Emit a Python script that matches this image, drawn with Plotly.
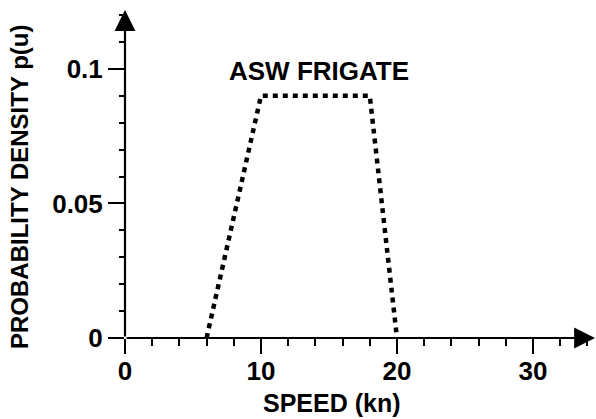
import plotly.graph_objects as go

# Data
speed = [6, 10, 18, 20]
density = [0, 0.09, 0.09, 0]
series_name = "ASW FRIGATE"

x_tickvals = [0, 10, 20, 30]
x_ticktext = ["<b>0</b>", "<b>10</b>", "<b>20</b>", "<b>30</b>"]
y_tickvals = [0, 0.05, 0.1]
y_ticktext = ["<b>0</b>", "<b>0.05</b>", "<b>0.1</b>"]

X_MAX = 34.56
Y_MAX = 0.1219
FONT = "Liberation Sans, Arial, sans-serif"

fig = go.Figure()
fig.add_trace(go.Scatter(
    x=speed, y=density, mode="lines",
    line=dict(color="black", width=4.5, dash="5px,5px"),
    showlegend=False, hoverinfo="skip", cliponaxis=False,
))

fig.update_layout(
    width=596, height=419,
    margin=dict(l=125, r=1, t=10, b=81),
    paper_bgcolor="white", plot_bgcolor="white",
    font=dict(family=FONT, color="black"),
    xaxis=dict(
        range=[0, X_MAX], showgrid=False, zeroline=False, showline=False,
        tickvals=x_tickvals, ticktext=x_ticktext,
        ticks="outside", ticklen=15, tickwidth=2, tickcolor="black",
        ticklabelstandoff=-5,
        tickfont=dict(size=26, family=FONT, color="black"),
        minor=dict(ticks="outside", ticklen=7, tickwidth=2, tickcolor="black", dtick=2, tick0=0),
    ),
    yaxis=dict(
        range=[0, Y_MAX], showgrid=False, zeroline=False, showline=False,
        tickvals=y_tickvals, ticktext=y_ticktext,
        ticks="outside", ticklen=16, tickwidth=2, tickcolor="black",
        tickfont=dict(size=26, family=FONT, color="black"),
        minor=dict(ticks="outside", ticklen=5, tickwidth=2, tickcolor="black", dtick=0.01, tick0=0),
    ),
)

# axis lines with arrowheads
fig.add_annotation(x=X_MAX, y=0, ax=0, ay=0, xref="x", yref="y", axref="x", ayref="y",
                   showarrow=True, arrowhead=2, arrowsize=1.9, arrowwidth=2.2, arrowcolor="black", text="")
fig.add_annotation(x=0, y=Y_MAX, ax=0, ay=0, xref="x", yref="y", axref="x", ayref="y",
                   showarrow=True, arrowhead=2, arrowsize=1.9, arrowwidth=2.2, arrowcolor="black", text="")

# series label
fig.add_annotation(x=14.3, y=0.0993, xref="x", yref="y", text="<b>" + series_name + "</b>",
                   showarrow=False, font=dict(size=26, family=FONT, color="black"))

# axis titles
fig.add_annotation(x=(332 - 125) / 470, y=(338 - 403) / 328, xref="paper", yref="paper",
                   text="<b>SPEED (kn)</b>", showarrow=False, xanchor="center", yanchor="middle",
                   font=dict(size=25, family=FONT, color="black"))
fig.add_annotation(x=(20 - 125) / 470, y=(338 - 187) / 328, xref="paper", yref="paper",
                   text="<b>PROBABILITY DENSITY p(u)</b>", showarrow=False, textangle=-90,
                   xanchor="center", yanchor="middle",
                   font=dict(size=24, family=FONT, color="black"))

fig.write_html("out.html", config={"displayModeBar": False},
               post_script="document.body.style.margin='0';document.body.style.overflow='hidden';")
